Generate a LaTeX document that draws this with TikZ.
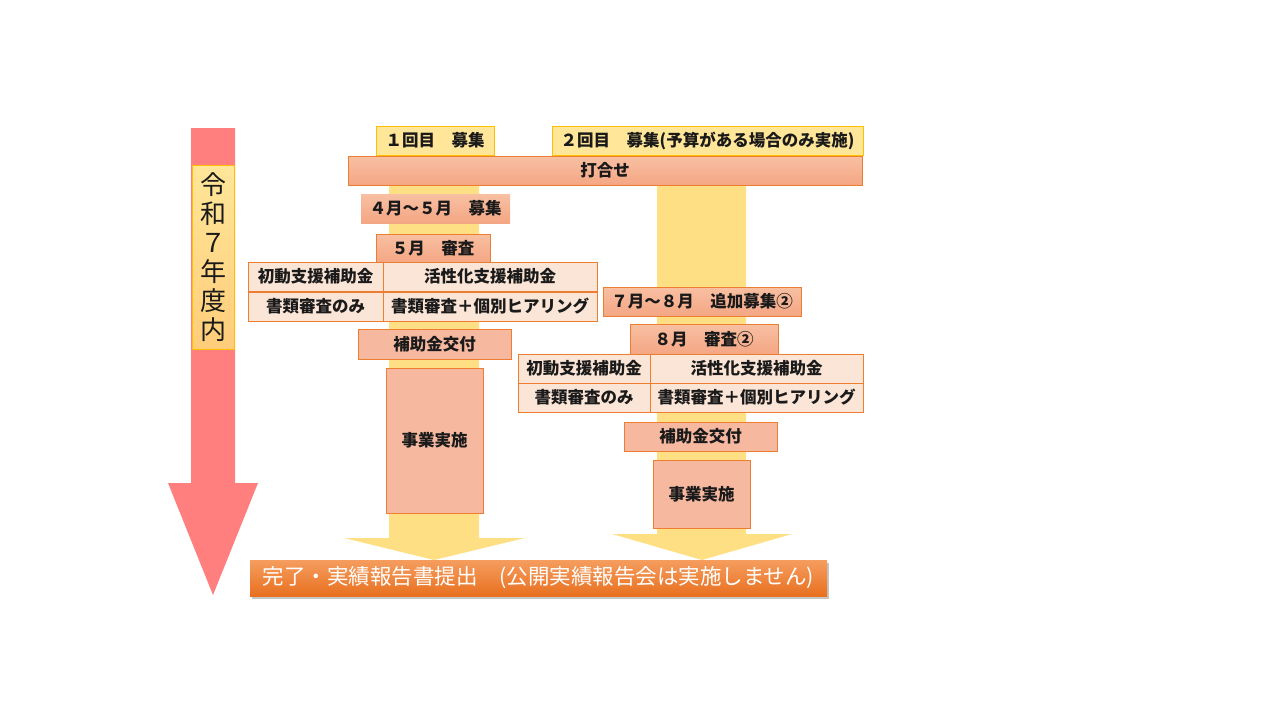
\documentclass[tikz,border=0pt]{standalone}
\usepackage{fontspec}
\setmainfont{Noto Sans CJK JP}
\usetikzlibrary{shadows}
\definecolor{redarrow}{HTML}{FF7F7F}
\definecolor{yelarrow}{HTML}{FFDF84}
\definecolor{yelfill}{HTML}{FFE699}
\definecolor{yelline}{HTML}{FFC000}
\definecolor{orline}{HTML}{ED7D31}
\definecolor{saltop}{HTML}{F8C0A2}
\definecolor{salbot}{HTML}{F4A684}
\definecolor{salflat}{HTML}{F6B9A0}
\definecolor{tabfill}{HTML}{FBE5D6}
\definecolor{fintop}{HTML}{F59D5F}
\definecolor{finbot}{HTML}{E8701F}
\definecolor{txt}{HTML}{1A1A1A}
\tikzset{
  base/.style={inner sep=0pt, font=\fontsize{16.5}{19}\selectfont\bfseries, text=txt},
  yelbox/.style={base, fill=yelfill, draw=yelline, line width=0.8pt},
  salgrad/.style={base, top color=saltop, bottom color=salbot, draw=orline, line width=0.8pt},
  salnb/.style={base, top color=saltop, bottom color=salbot},
  salbox/.style={base, fill=salflat, draw=orline, line width=0.8pt},
  tabbox/.style={base, fill=tabfill, draw=orline, line width=0.8pt},
  finbox/.style={inner sep=0pt, top color=fintop, bottom color=finbot, text=white,
     font=\fontsize{21.5}{24}\selectfont, drop shadow={shadow xshift=2pt, shadow yshift=-3pt, fill=black!45}},
}
\begin{document}
\begin{tikzpicture}[x=1pt,y=-1pt]
\useasboundingbox (0,0) rectangle (1280,720);
% red timeline arrow
\fill[redarrow] (191,128) -- (235,128) -- (235,483) -- (258,483) -- (213,595) -- (168,483) -- (191,483) -- cycle;
\node[inner sep=0pt, text=txt, top color=yelfill, bottom color=yelfill!70!orange!90, draw=yelline, line width=0.8pt,
  minimum width=42, minimum height=184, align=center,
  font=\fontsize{26}{29}\selectfont] (year) at (213,257) {令\\和\\７\\年\\度\\内};
% yellow flow arrows
\fill[yelarrow] (389,185) -- (479,185) -- (479,538) -- (525,538) -- (434,560) -- (344,538) -- (389,538) -- cycle;
\fill[yelarrow] (657,185) -- (746,185) -- (746,534) -- (792,534) -- (702,560) -- (612,534) -- (657,534) -- cycle;
% top boxes
\node[yelbox, minimum width=118, minimum height=29] (r1) at (435,140.5) {１回目　募集};
\node[yelbox, minimum width=311, minimum height=29] (r2) at (707.5,140.5) {２回目　募集(予算がある場合のみ実施)};
\node[salgrad, minimum width=514, minimum height=29] (uchi) at (605,170.5) {打合せ};
% left flow
\node[salnb, minimum width=149, minimum height=29] (bosyu1) at (435.5,208.5) {４月～５月　募集};
\node[salgrad, minimum width=114, minimum height=28] (shinsa1) at (433,248) {５月　審査};
\node[tabbox, minimum width=135, minimum height=29] (t11) at (315.5,276.5) {初動支援補助金};
\node[tabbox, minimum width=214, minimum height=29] (t12) at (490,276.5) {活性化支援補助金};
\node[tabbox, minimum width=135, minimum height=29] (t21) at (315.5,306.5) {書類審査のみ};
\node[tabbox, minimum width=214, minimum height=29] (t22) at (490,306.5) {書類審査＋個別ヒアリング};
\node[salbox, minimum width=153, minimum height=30] (kofu1) at (434.5,344) {補助金交付};
\node[salbox, minimum width=97, minimum height=145] (jigyo1) at (434.5,440.5) {事業実施};
% right flow
\node[salnb, draw=orline, line width=0.8pt, minimum width=198, minimum height=29] (bosyu2) at (702,301.5) {７月～８月　追加募集②};
\node[salgrad, minimum width=148, minimum height=30] (shinsa2) at (704,339) {８月　審査②};
\node[tabbox, minimum width=132, minimum height=29] (s11) at (584,368.5) {初動支援補助金};
\node[tabbox, minimum width=213, minimum height=29] (s12) at (756.5,368.5) {活性化支援補助金};
\node[tabbox, minimum width=132, minimum height=29] (s21) at (584,397.5) {書類審査のみ};
\node[tabbox, minimum width=213, minimum height=29] (s22) at (756.5,397.5) {書類審査＋個別ヒアリング};
\node[salbox, minimum width=153, minimum height=29] (kofu2) at (700.5,436.5) {補助金交付};
\node[salbox, minimum width=97, minimum height=68] (jigyo2) at (701.5,494) {事業実施};
% final
\node[finbox, minimum width=577, minimum height=36] (fin) at (538.5,578) {完了・実績報告書提出　(公開実績報告会は実施しません)};
\end{tikzpicture}
\end{document}
